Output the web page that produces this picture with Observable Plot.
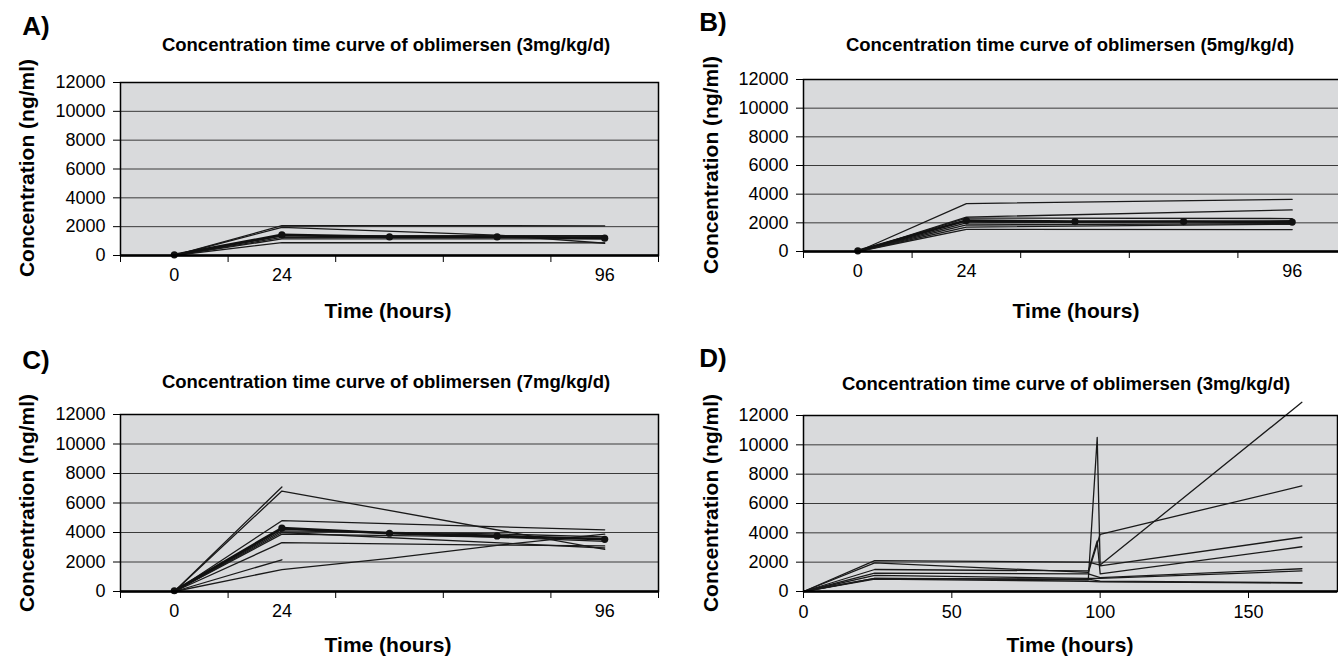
<!DOCTYPE html>
<html>
<head>
<meta charset="utf-8">
<script src="https://cdn.jsdelivr.net/npm/d3@7"></script>
<script src="https://cdn.jsdelivr.net/npm/@observablehq/plot@0.6"></script>
<style>
html, body { margin: 0; padding: 0; background: #fff; overflow: hidden; }
#root { position: relative; width: 1338px; height: 657px; font-family: "Liberation Sans", Arial, sans-serif; color: #000; }
.abs { position: absolute; white-space: nowrap; line-height: 1; }
.letter { font-weight: bold; font-size: 26px; transform: translate(-50%, -50%); }
.title { font-weight: bold; font-size: 18.5px; transform: translate(-50%, -50%); }
.xt { font-weight: bold; font-size: 21px; transform: translate(-50%, -50%); }
.yt { font-weight: bold; font-size: 21px; transform: translate(-50%, -50%) rotate(-90deg); }
.panel { position: absolute; }
</style>
</head>
<body>
<div id="root"></div>
<script>
// ---------- data ----------
const hoursABC = [0, 24, 48, 72, 96];
const tickLabelsABC = ["0", "24", "", "", "96"];
const yTicks = [0, 2000, 4000, 6000, 8000, 10000, 12000];
const hoursD = [0, 24, 96, 99, 100, 168];
const xTicksD = [0, 50, 100, 150];

// Panel A (3 mg/kg/d) - mean curve and individual patients (null = not sampled)
const meanA = [50, 1430, 1290, 1290, 1200];
const patientsA = [
  [0, 2070, null, null, 2060],
  [0, 1950, null, 1420, 850],
  [0, 1360, null, null, 1380],
  [0, 1250, null, null, 1300],
  [0, 1150, null, null, 1150],
  [0, 900, null, null, 880]
];

// Panel B (5 mg/kg/d)
const meanB = [50, 2160, 2090, 2090, 2050];
const patientsB = [
  [0, 3340, null, null, 3640],
  [0, 2400, null, null, 2900],
  [0, 2330, null, null, 2300],
  [0, 2000, null, null, 2150],
  [0, 1850, null, null, 1950],
  [0, 1700, null, null, 1900],
  [0, 1550, null, null, 1530]
];

// Panel C (7 mg/kg/d)
const meanC = [50, 4300, 3950, 3770, 3540];
const patientsC = [
  [0, 7090, null, null, null],
  [0, 6810, null, null, 2860],
  [0, 4800, null, null, 4180],
  [0, 4230, null, null, 3400],
  [0, 4110, null, 3900, 3700],
  [0, 4000, null, null, 2950],
  [0, 3890, null, null, 3600],
  [0, 3310, null, 3150, 3090],
  [0, 2150, null, null, null],
  [0, 1490, 2240, 3130, 3890]
];

// Panel D (3 mg/kg/d, extended sampling) - values at hoursD
const patientsD = [
  [0, 2100, 2000, null, 1800, 12900],
  [0, 1950, 1300, null, 3900, 7200],
  [0, 900, 800, 10500, 1750, 3700],
  [0, 1500, 1400, 3450, 1200, 3050],
  [0, 1250, 1200, null, 950, 1550],
  [0, 1100, 900, null, 900, 1400],
  [0, 900, 850, null, 700, 600],
  [0, 850, 700, null, 650, 580]
];

// ---------- layout ----------
const FONT = "Liberation Sans, Arial, sans-serif";
const root = document.getElementById("root");

function addText(cls, text, x, y) {
  const d = document.createElement("div");
  d.className = "abs " + cls;
  d.textContent = text;
  d.style.left = x + "px";
  d.style.top = y + "px";
  root.appendChild(d);
}

function place(svg, left, top) {
  const w = document.createElement("div");
  w.className = "panel";
  w.style.left = left + "px";
  w.style.top = top + "px";
  w.appendChild(svg);
  root.appendChild(w);
}

function commonMarks() {
  return [
    Plot.frame({fill: "#d9dadc"}),
    Plot.gridY(yTicks, {stroke: "#3a3a3a", strokeOpacity: 1, strokeWidth: 1}),
    Plot.axisY({ticks: yTicks, tickSize: 7, tickPadding: 8, tickFormat: d3.format("d"), label: null, fontSize: 18})
  ];
}

function categoricalPanel(mean, patients, L) {
  const rows = [];
  patients.forEach((s, k) => s.forEach((v, i) => { if (v != null) rows.push({i, v, s: k}); }));
  const meanRows = mean.map((v, i) => ({i, v}));
  const idx = hoursABC.map((h, i) => i);
  return Plot.plot({
    width: L.w, height: L.h,
    marginLeft: L.ml, marginRight: L.mr, marginTop: L.mt, marginBottom: L.mb,
    style: {fontFamily: FONT, fontSize: "18px", color: "#000", background: "transparent", overflow: "visible"},
    x: {type: "linear", domain: [-0.5, hoursABC.length - 0.5]},
    y: {domain: [0, 12000]},
    marks: [
      ...commonMarks(),
      Plot.axisX({ticks: d3.range(-0.5, hoursABC.length, 1), tickSize: 7, tickFormat: () => "", label: null}),
      Plot.axisX({ticks: idx, tickSize: 0, tickPadding: 13, tickFormat: i => tickLabelsABC[i], label: null, fontSize: 18}),
      Plot.line(rows, {x: "i", y: "v", z: "s", stroke: "#1a1a1a", strokeWidth: 1.3}),
      Plot.line(meanRows, {x: "i", y: "v", stroke: "#111", strokeWidth: 2.6}),
      Plot.dot(meanRows, {x: "i", y: "v", r: 3.6, fill: "#111"}),
      Plot.frame({stroke: "#000", strokeWidth: 1.5}),
      Plot.ruleY([0], {stroke: "#000", strokeWidth: 2.5})
    ]
  });
}

function timePanel(patients, L) {
  const rows = [];
  patients.forEach((s, k) => s.forEach((v, i) => { if (v != null) rows.push({t: hoursD[i], v, s: k}); }));
  return Plot.plot({
    width: L.w, height: L.h,
    marginLeft: L.ml, marginRight: L.mr, marginTop: L.mt, marginBottom: L.mb,
    style: {fontFamily: FONT, fontSize: "18px", color: "#000", background: "transparent", overflow: "visible"},
    x: {type: "linear", domain: [0, 180]},
    y: {domain: [0, 12000]},
    marks: [
      ...commonMarks(),
      Plot.axisX({ticks: xTicksD, tickSize: 7, tickPadding: 7, tickFormat: d3.format("d"), label: null, fontSize: 18}),
      Plot.line(rows, {x: "t", y: "v", z: "s", stroke: "#1a1a1a", strokeWidth: 1.3}),
      Plot.frame({stroke: "#000", strokeWidth: 1.5}),
      Plot.ruleY([0], {stroke: "#000", strokeWidth: 2.5})
    ]
  });
}

const titleBase = "Concentration time curve of oblimersen ";
const yLabel = "Concentration (ng/ml)";
const xLabel = "Time (hours)";

// Panel A
place(categoricalPanel(meanA, patientsA, {w: 669, h: 330, ml: 120, mr: 11, mt: 82, mb: 75}), 0, 0);
addText("letter", "A)", 36, 26);
addText("title", titleBase + "(3mg/kg/d)", 386, 45);
addText("yt", yLabel, 26, 168);
addText("xt", xLabel, 388, 310);

// Panel B
place(categoricalPanel(meanB, patientsB, {w: 669, h: 330, ml: 134, mr: -8, mt: 79, mb: 79}), 669, 0);
addText("letter", "B)", 713, 22);
addText("title", titleBase + "(5mg/kg/d)", 1070, 45);
addText("yt", yLabel, 710, 165);
addText("xt", xLabel, 1076, 310);

// Panel C
place(categoricalPanel(meanC, patientsC, {w: 669, h: 327, ml: 120, mr: 11, mt: 84, mb: 66}), 0, 330);
addText("letter", "C)", 36, 360);
addText("title", titleBase + "(7mg/kg/d)", 386, 382);
addText("yt", yLabel, 26, 503);
addText("xt", xLabel, 388, 644);

// Panel D
place(timePanel(patientsD, {w: 669, h: 327, ml: 134, mr: 1, mt: 85, mb: 66}), 669, 330);
addText("letter", "D)", 713, 358);
addText("title", titleBase + "(3mg/kg/d)", 1066, 384);
addText("yt", yLabel, 710, 503);
addText("xt", xLabel, 1070, 644);
</script>
</body>
</html>
